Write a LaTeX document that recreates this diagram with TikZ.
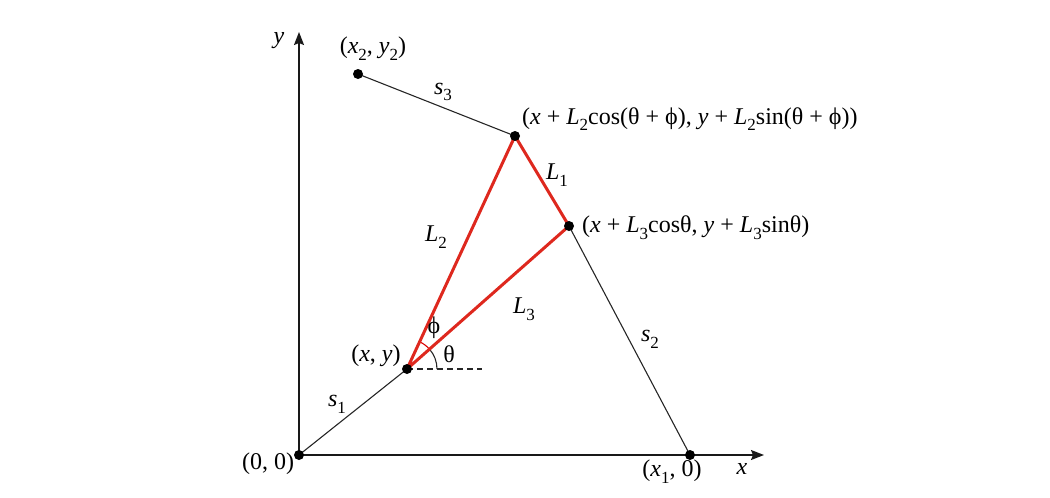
\documentclass[tikz,border=0pt]{standalone}
\usepackage{fontspec}
\setmainfont{Liberation Serif}
\usetikzlibrary{arrows.meta,calc}
\newcommand{\vi}[1]{\textit{#1}}
\newcommand{\sbs}[1]{\raisebox{-0.28em}{\fontsize{17}{18}\selectfont #1}}
\begin{document}
\begin{tikzpicture}[x=1pt,y=-1pt,
  lbl/.style={inner sep=0pt,font=\fontsize{24}{28}\selectfont},
  dot/.style={circle,fill=black,inner sep=0pt,minimum size=10pt},
  axis/.style={line width=1.5pt,black!90,-{Stealth[length=13pt,width=10pt,inset=2pt]}},
  thin/.style={line width=1.1pt,black!85},
  redline/.style={line width=3pt,draw={rgb,255:red,222;green,40;blue,30}}]
\useasboundingbox (0,0) rectangle (1050,498);
% points
\coordinate (O) at (299,455);
\coordinate (X1) at (690,455);
\coordinate (X2) at (358,74);
\coordinate (A) at (515,136);
\coordinate (B) at (569,226);
\coordinate (P) at (407,369);
\coordinate (XE) at (764,455);
\coordinate (YE) at (299,32);
\coordinate (D) at (482,369);
% axes
\draw[axis] (O) -- (XE);
\draw[axis] (O) -- (YE);
% thin lines
\draw[thin] (O) -- (P);
\draw[thin] (X2) -- (A);
\draw[thin] (B) -- (X1);
\draw[thin,dash pattern=on 6pt off 4pt] (P) -- (D);
% angle arcs
\draw[thin] ($(P)+(30,0)$) arc[start angle=0,end angle=-41.4,radius=30];
\draw[thin,red!85!black] ($(P)+(-41.4:30)$) arc[start angle=-41.4,end angle=-65.1,radius=30];
% red triangle
\draw[redline,line join=round] (P) -- (A) -- (B) -- cycle;
% dots
\foreach \p in {O,X1,X2,A,B,P} \node[dot] at (\p) {};
% labels
\node[lbl] (ly) at (279,41) {\vi{y}};
\node[lbl] (lx) at (742,469) {\vi{x}};
\node[lbl] (lx2) at (373,49) {(\vi{x}\sbs{2}, \vi{y}\sbs{2})};
\node[lbl] (ls3) at (443,92) {\vi{s}\sbs{3}};
\node[lbl,anchor=west] (lA) at (522,119) {(\vi{x} + \vi{L}\sbs{2}cos(θ + ϕ), \vi{y} + \vi{L}\sbs{2}sin(θ + ϕ))};
\node[lbl] (lL1) at (557,175) {\vi{L}\sbs{1}};
\node[lbl,anchor=west] (lB) at (582,228) {(\vi{x} + \vi{L}\sbs{3}cosθ, \vi{y} + \vi{L}\sbs{3}sinθ)};
\node[lbl] (lL2) at (436,237) {\vi{L}\sbs{2}};
\node[lbl] (lL3) at (524,309) {\vi{L}\sbs{3}};
\node[lbl] (ls2) at (650,339) {\vi{s}\sbs{2}};
\node[lbl] (lphi) at (434,328) {ϕ};
\node[lbl] (lth) at (449,354) {θ};
\node[lbl] (lP) at (376,356) {(\vi{x}, \vi{y})};
\node[lbl] (ls1) at (337,404) {\vi{s}\sbs{1}};
\node[lbl] (lO) at (268,464) {(0, 0)};
\node[lbl] (lX1) at (672,472) {(\vi{x}\sbs{1}, 0)};
\end{tikzpicture}
\end{document}
